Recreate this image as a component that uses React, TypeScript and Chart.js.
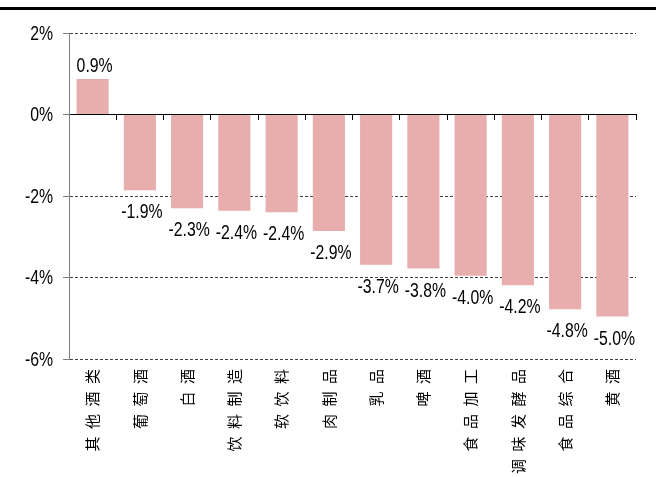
import { useEffect, useRef } from 'react';
import { Chart, registerables } from 'chart.js';

Chart.register(...registerables);

const categories = ['其他酒类', '葡萄酒', '白酒', '饮料制造', '软饮料', '肉制品', '乳品', '啤酒', '食品加工', '调味发酵品', '食品综合', '黄酒'];
const growth = [0.87, -1.86, -2.3, -2.36, -2.4, -2.86, -3.69, -3.78, -3.96, -4.19, -4.78, -4.96];
const yMin = -6;
const yMax = 2;
const yStep = 2;

const NUM_FONT = '"Liberation Sans", Arial, sans-serif';
const NUM_SIZE = 20;
const NARROW = 0.79;
const CJK_FONT = '"Noto Sans CJK SC", "Noto Sans", sans-serif';

function drawNarrow(ctx: CanvasRenderingContext2D, text: string, x: number, y: number) {
  ctx.save();
  ctx.translate(x, y);
  ctx.scale(NARROW, 1);
  ctx.fillText(text, 0, 0);
  ctx.restore();
}

const narrowText = {
  id: 'narrowText',
  afterDraw(chart: any) {
    const ctx: CanvasRenderingContext2D = chart.ctx;
    ctx.save();
    ctx.font = `${NUM_SIZE}px ${NUM_FONT}`;
    ctx.fillStyle = '#000';

    // y-axis tick labels
    const ys = chart.scales.y;
    ctx.textAlign = 'right';
    ctx.textBaseline = 'middle';
    ys.ticks.forEach((t: any) => {
      drawNarrow(ctx, `${t.value}%`, ys.right - 16, ys.getPixelForValue(t.value) + 1);
    });

    // value labels
    const meta = chart.getDatasetMeta(0);
    ctx.textAlign = 'center';
    ctx.textBaseline = 'alphabetic';
    meta.data.forEach((bar: any, i: number) => {
      const v = growth[i];
      const text = v.toFixed(1) + '%';
      const y = v >= 0 ? bar.y - 7 : bar.y + 28;
      drawNarrow(ctx, text, bar.x + 2, y);
    });
    ctx.restore();
  },
};

export default function App() {
  const ref = useRef<HTMLCanvasElement>(null);

  useEffect(() => {
    if (!ref.current) return;
    const chart = new Chart(ref.current, {
      type: 'bar',
      data: {
        labels: categories.map((c) => Array.from(c).join('\u2002')),
        datasets: [
          {
            data: growth,
            backgroundColor: '#E8ADAD',
            borderWidth: 0,
            categoryPercentage: 1,
            barPercentage: 0.68,
            xAxisID: 'x',
            yAxisID: 'y',
          },
        ],
      },
      options: {
        responsive: false,
        animation: false,
        events: [],
        layout: { padding: { left: 0, right: 20, top: 33, bottom: 0 } },
        plugins: {
          legend: { display: false },
          tooltip: { enabled: false },
          title: { display: false },
        },
        scales: {
          x: {
            type: 'category',
            position: 'bottom',
            offset: true,
            grid: { display: false },
            border: { display: false },
            ticks: {
              autoSkip: false,
              minRotation: 90,
              maxRotation: 90,
              padding: 2,
              color: '#000',
              font: { family: CJK_FONT, size: 15 },
            },
            afterFit(scale: any) {
              scale.height = 118;
            },
          },
          x2: {
            type: 'category',
            position: { y: 0 } as any,
            offset: true,
            grid: {
              display: true,
              offset: true,
              drawOnChartArea: false,
              drawTicks: true,
              tickLength: 5,
              tickColor: '#000',
            },
            border: { display: true, color: '#000', width: 1 },
            ticks: { display: false },
          },
          y: {
            min: yMin,
            max: yMax,
            ticks: {
              stepSize: yStep,
              padding: 10,
              color: 'rgba(0,0,0,0)',
              font: { family: NUM_FONT, size: NUM_SIZE },
              callback: (v: any) => `${v}%`,
            },
            grid: {
              color: (c: any) => (c.tick && c.tick.value === 0 ? 'rgba(0,0,0,0)' : '#404040'),
              tickLength: 6,
              tickColor: '#808080',
              lineWidth: 1,
            },
            border: { display: true, color: '#808080', width: 1, dash: [3, 2] },
            afterFit(scale: any) {
              scale.width = 69;
            },
          },
        },
      },
      plugins: [narrowText],
    });
    return () => chart.destroy();
  }, []);

  return (
    <div style={{ position: 'fixed', left: 0, top: 0, width: 656, height: 477, background: '#fff' }}>
      <div style={{ position: 'absolute', left: 0, top: 7, width: 656, height: 3, background: '#000' }} />
      <canvas ref={ref} width={656} height={477} style={{ display: 'block', position: 'absolute', left: 0, top: 0 }} />
    </div>
  );
}
